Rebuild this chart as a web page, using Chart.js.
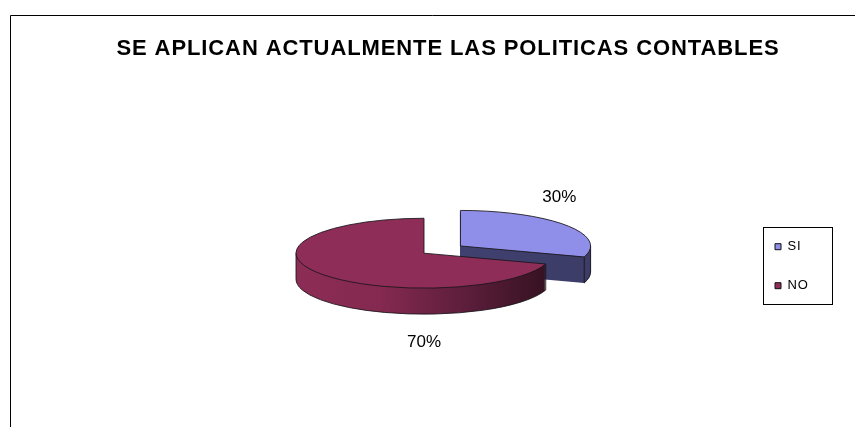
<!DOCTYPE html>
<html>
<head>
<meta charset="utf-8">
<title>SE APLICAN ACTUALMENTE LAS POLITICAS CONTABLES</title>
<script src="https://cdn.jsdelivr.net/npm/chart.js@4.4.0/dist/chart.umd.min.js"></script>
<style>
  html, body { margin: 0; padding: 0; background: #fff; }
</style>
</head>
<body>
<canvas id="pieGraph" width="855" height="427"></canvas>
<script>
var categories = ['SI', 'NO'];
var percentages = [30, 70];

var topColors = ['#8f8fea', '#8e2e58'];
// side shading, left -> right
var sideColors = [['#46467a', '#3c3c67'], ['#8c2d56', '#84294f', '#5c1e3b', '#33111f']];
var TILT = 0.273;
var DEPTH = 26;
var TITLE_SHIFT = -10;
var FONT = 'Liberation Sans, Arial, sans-serif';

function sliceCenter(arc) {
    var off = (arc.options.offset || 0) / 4;
    var mid = (arc.startAngle + arc.endAngle) / 2;
    return {
        x: arc.x + Math.cos(mid) * off,
        y: arc.y + Math.sin(mid) * off,
        mid: mid,
        r: arc.outerRadius + off * (1 - Math.sin(Math.min(Math.PI, arc.circumference)))
    };
}

function tiltCtx(ctx, arc) {
    ctx.translate(arc.x, arc.y - DEPTH / 2);
    ctx.scale(1, TILT);
    ctx.translate(-arc.x, -arc.y);
}

function sectorPath(ctx, arc, dy) {
    var c = sliceCenter(arc);
    ctx.moveTo(c.x, c.y + dy);
    ctx.arc(c.x, c.y + dy, c.r, arc.startAngle, arc.endAngle);
    ctx.closePath();
}

function strokePlain(ctx) {
    ctx.save();
    ctx.setTransform(1, 0, 0, 1, 0, 0);
    ctx.strokeStyle = 'rgba(25,20,25,0.85)';
    ctx.lineWidth = 1;
    ctx.stroke();
    ctx.restore();
}

var pie3d = {
    id: 'pie3d',
    afterLayout: function (chart) {
        // excel centres the title a bit left of the plot+legend block
        chart.titleBlock.left += 2 * TITLE_SHIFT;
    },
    beforeDraw: function (chart) {
        chart.ctx.letterSpacing = '0.9px';
    },
    beforeDatasetsDraw: function (chart) {
        var ctx = chart.ctx;
        ctx.letterSpacing = '0px';
        var arcs = chart.getDatasetMeta(0).data;
        var order = arcs.map(function (a, i) { return i; });
        // back slices first
        order.sort(function (a, b) {
            return Math.sin(sliceCenter(arcs[a]).mid) - Math.sin(sliceCenter(arcs[b]).mid);
        });
        ctx.save();
        tiltCtx(ctx, arcs[0]);
        order.forEach(function (i) {
            var arc = arcs[i];
            var c = sliceCenter(arc);
            var g = ctx.createLinearGradient(c.x - c.r, 0, c.x + c.r, 0);
            var st = sideColors[i];
            st.forEach(function (col, k) { g.addColorStop(k / (st.length - 1), col); });
            ctx.fillStyle = g;
            for (var d = DEPTH; d > 0; d--) {
                ctx.beginPath();
                sectorPath(ctx, arc, d / TILT);
                ctx.fill();
            }
            // front bottom rim + vertical edges
            var s = Math.max(arc.startAngle, 0), e = Math.min(arc.endAngle, Math.PI);
            if (e > s) {
                var dy = DEPTH / TILT;
                ctx.beginPath();
                ctx.moveTo(c.x + c.r * Math.cos(s), c.y + c.r * Math.sin(s));
                ctx.lineTo(c.x + c.r * Math.cos(s), c.y + dy + c.r * Math.sin(s));
                ctx.arc(c.x, c.y + dy, c.r, s, e);
                ctx.lineTo(c.x + c.r * Math.cos(e), c.y + c.r * Math.sin(e));
                strokePlain(ctx);
            }
        });
    },
    afterDatasetsDraw: function (chart) {
        var ctx = chart.ctx;
        var arcs = chart.getDatasetMeta(0).data;
        ctx.beginPath();
        arcs.forEach(function (arc) { sectorPath(ctx, arc, 0); });
        ctx.restore();
        strokePlain(ctx);
    },
    afterDraw: function (chart) {
        var ctx = chart.ctx;
        ctx.save();
        ctx.letterSpacing = '0px';
        // outer frame (only top and left visible)
        ctx.strokeStyle = '#000';
        ctx.lineWidth = 1;
        ctx.beginPath();
        ctx.moveTo(10.5, chart.height);
        ctx.lineTo(10.5, 15.5);
        ctx.lineTo(chart.width, 15.5);
        ctx.stroke();

        // legend frame
        var hb = chart.legend.legendHitBoxes;
        var l = Math.min.apply(null, hb.map(function (h) { return h.left; }));
        var t = Math.min.apply(null, hb.map(function (h) { return h.top; }));
        var r = Math.max.apply(null, hb.map(function (h) { return h.left + h.width; }));
        var b = Math.max.apply(null, hb.map(function (h) { return h.top + h.height; }));
        ctx.strokeRect(Math.round(l - 12) + 0.5, Math.round(t - 13) + 0.5,
            Math.round(r - l + 37), Math.round(b - t + 25));

        // percentage labels
        var arcs = chart.getDatasetMeta(0).data;
        ctx.fillStyle = '#000';
        ctx.font = '17px ' + FONT;
        ctx.textAlign = 'center';
        ctx.textBaseline = 'middle';
        arcs.forEach(function (arc) {
            var c = sliceCenter(arc);
            var lower = Math.sin(c.mid) > 0;
            var toward = lower ? Math.PI / 2 : -Math.PI / 2;
            var a = c.mid + (toward - c.mid) * (lower ? 1 : 0.25);
            var oy = arc.y - DEPTH / 2 + (c.y - arc.y) * TILT;
            var lx = c.x + (c.r + 22) * Math.cos(a);
            var ly = oy + (c.r * TILT + 28) * Math.sin(a) + (lower ? DEPTH : 0);
            var pct = Math.round(arc.circumference / (2 * Math.PI) * 100);
            ctx.fillText(pct + '%', lx, ly);
        });
        ctx.restore();
    }
};

var pieGraph = document.getElementById('pieGraph').getContext('2d');
var chart = new Chart(pieGraph, {
    type: 'pie',
    data: {
        labels: categories,
        datasets: [{
            data: percentages,
            backgroundColor: topColors,
            borderWidth: 0,
            offset: [180, 0],
            radius: 128,
            clip: false
        }]
    },
    options: {
        responsive: false,
        animation: false,
        events: [],
        layout: { padding: { left: 99, right: 38, top: 0, bottom: 5 } },
        plugins: {
            title: {
                display: true,
                text: 'SE APLICAN ACTUALMENTE LAS POLITICAS CONTABLES',
                color: '#000',
                font: { family: FONT, size: 22, weight: 'bold' },
                padding: { top: 36, bottom: 48 }
            },
            legend: {
                position: 'right',
                fullSize: false,
                labels: {
                    color: '#000',
                    boxWidth: 6,
                    boxHeight: 6,
                    padding: 26,
                    font: { family: FONT, size: 13 },
                    generateLabels: function (chart) {
                        var items = Chart.overrides.pie.plugins.legend.labels.generateLabels(chart);
                        items.forEach(function (it) { it.lineWidth = 1; it.strokeStyle = '#111'; });
                        return items;
                    }
                }
            },
            tooltip: { enabled: false }
        }
    },
    plugins: [pie3d]
});
</script>
</body>
</html>
